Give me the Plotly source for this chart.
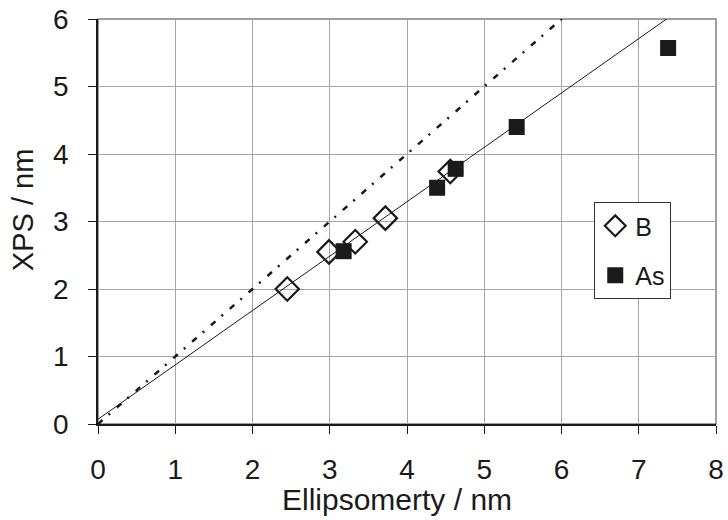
import plotly.graph_objects as go

# Data
b_x = [2.45, 2.99, 3.33, 3.72, 4.56]
b_y = [2.00, 2.55, 2.70, 3.05, 3.74]
as_x = [3.18, 4.39, 4.63, 5.42, 7.38]
as_y = [2.56, 3.50, 3.78, 4.40, 5.57]
fit_x = [0.0, 7.36]
fit_y = [0.07, 6.0]
ideal_x = [0.0, 6.05]
ideal_y = [0.0, 6.05]
x_ticks = [0, 1, 2, 3, 4, 5, 6, 7, 8]
y_ticks = [0, 1, 2, 3, 4, 5, 6]
x_title = "Ellipsomerty / nm"
y_title = "XPS / nm"

fig = go.Figure()
fig.add_trace(go.Scatter(x=ideal_x, y=ideal_y, mode="lines",
                         line=dict(color="#1a1a1a", width=2.5, dash="6px,8px,2px,9px"),
                         showlegend=False, hoverinfo="skip"))
fig.add_trace(go.Scatter(x=fit_x, y=fit_y, mode="lines",
                         line=dict(color="#1a1a1a", width=1),
                         showlegend=False, hoverinfo="skip"))
fig.add_trace(go.Scatter(x=b_x, y=b_y, mode="markers", name="B", legendgroup="b",
                         marker=dict(symbol="diamond-open", size=18, color="#1a1a1a",
                                     line=dict(width=2.2, color="#1a1a1a"))))
fig.add_trace(go.Scatter(x=as_x, y=as_y, mode="markers", name="As", legendgroup="as",
                         marker=dict(symbol="square", size=16, color="#1a1a1a",
                                     line=dict(width=0))))

font = "Liberation Sans, Arial, sans-serif"
fig.update_layout(
    width=728, height=520,
    margin=dict(l=98, r=12, t=19, b=96, autoexpand=False),
    paper_bgcolor="white", plot_bgcolor="white",
    font=dict(family=font, size=28, color="#1a1a1a"),
    showlegend=True,
    legend=dict(x=0.803, y=0.548, xanchor="left", yanchor="top",
                bgcolor="white", bordercolor="#333333", borderwidth=1,
                font=dict(size=25), itemwidth=30, traceorder="grouped", tracegroupgap=14),
    shapes=[dict(type="rect", xref="paper", yref="paper", x0=0, y0=0, x1=1, y1=1,
                 line=dict(color="#808080", width=1.5), layer="below")],
    annotations=[
        dict(text=x_title, xref="paper", yref="paper", x=0.484, y=-0.187,
             xanchor="center", yanchor="middle", showarrow=False, font=dict(size=30)),
        dict(text=y_title, xref="paper", yref="paper", x=-0.12, y=0.53,
             xanchor="center", yanchor="middle", textangle=-90, showarrow=False,
             font=dict(size=29)),
    ],
)
fig.update_xaxes(range=[0, 8], tickvals=x_ticks, showgrid=True, gridcolor="#a6a6a6", gridwidth=1,
                 showline=True, linecolor="#1a1a1a", linewidth=1.5, ticks="outside", ticklen=8,
                 tickcolor="#1a1a1a", zeroline=False, automargin=False,
                 ticklabelstandoff=12, tickfont=dict(size=28))
fig.update_yaxes(range=[0, 6], tickvals=y_ticks, showgrid=True, gridcolor="#a6a6a6", gridwidth=1,
                 showline=True, linecolor="#1a1a1a", linewidth=1.5, ticks="outside", ticklen=8,
                 tickcolor="#1a1a1a", zeroline=False, automargin=False,
                 ticklabelstandoff=14, tickfont=dict(size=28))

fig.write_html("out.html", config={"displayModeBar": False},
               post_script="document.body.style.margin='0';")
